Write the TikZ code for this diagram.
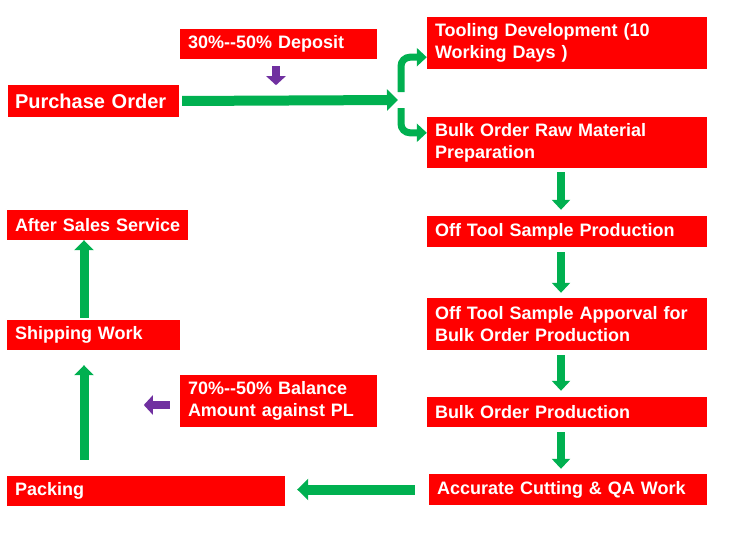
\documentclass[tikz,border=0pt]{standalone}
\usepackage{fontspec}
\setmainfont{Liberation Sans}
\usetikzlibrary{arrows.meta}
\definecolor{boxred}{RGB}{255,0,0}
\definecolor{agreen}{RGB}{0,176,80}
\definecolor{apurple}{RGB}{112,48,160}
\tikzset{
  rbox/.style={fill=boxred, text=white, font=\bfseries\fontsize{18}{22}\selectfont,
    align=left, inner xsep=8pt, inner ysep=0pt, anchor=center},
  garr/.style={draw=agreen, line width=10pt, -{Triangle[length=11pt,width=21pt]}},
  garrs/.style={draw=agreen, line width=8pt, -{Triangle[length=10pt,width=18pt]}},
  parr/.style={draw=apurple, line width=8pt, -{Triangle[length=9pt,width=19pt]}},
}
\begin{document}
\begin{tikzpicture}[x=1pt,y=-1pt]
\useasboundingbox (0,0) rectangle (750,554);
% boxes
\node[rbox, text width=157pt, minimum height=32pt, font=\bfseries\fontsize{20}{24}\selectfont, inner xsep=7pt] (po) at (93.5,101) {Purchase Order};
\node[rbox, text width=181pt, minimum height=30pt] (dep) at (278.5,44) {30\%-{}-50\% Deposit};
\node[rbox, text width=264pt, minimum height=52pt] (tool) at (567,43) {\raisebox{-2pt}{Tooling Development (10}\\\raisebox{-2pt}{Working Days )}};
\node[rbox, text width=264pt, minimum height=51pt] (raw) at (567,142.5) {Bulk Order Raw Material\\Preparation};
\node[rbox, text width=264pt, minimum height=31pt] (ots) at (567,231.5) {Off Tool Sample Production};
\node[rbox, text width=264pt, minimum height=52pt] (appr) at (567,324) {Off Tool Sample Apporval for\\Bulk Order Production};
\node[rbox, text width=264pt, minimum height=30pt] (bop) at (567,412) {Bulk Order Production};
\node[rbox, text width=262pt, minimum height=31pt] (acc) at (568,489.5) {Accurate Cutting \& QA Work};
\node[rbox, text width=262pt, minimum height=30pt] (pack) at (146,491) {Packing};
\node[rbox, text width=181pt, minimum height=52pt] (bal) at (278.5,401) {70\%-{}-50\% Balance\\Amount against PL};
\node[rbox, text width=157pt, minimum height=30pt] (ship) at (93.5,335) {Shipping Work};
\node[rbox, text width=165pt, minimum height=30pt] (after) at (97.5,225) {\makebox[0pt][l]{After Sales Service}};
% main arrow and split
\coordinate (sp) at (398,100);
\draw[garr, shorten <=3pt] (po.east) -- (sp);
\draw[garrs, line width=7pt, rounded corners=9pt] ([xshift=3pt,yshift=8pt]sp) |- ([yshift=12pt]tool.south west);
\draw[garrs, line width=7pt, rounded corners=9pt] ([xshift=3pt,yshift=-8pt]sp) |- ([yshift=-16pt]raw.north west);
% deposit arrow
\draw[parr] ([xshift=-2.5pt,yshift=-7pt]dep.south) -- ([xshift=-2.5pt,yshift=-26pt]dep.south);
% right column
\draw[garrs, shorten <=4pt, shorten >=6pt] ([xshift=-6pt]raw.south) -- ([xshift=-6pt]ots.north);
\draw[garrs, shorten <=5pt, shorten >=5pt] ([xshift=-6pt]ots.south) -- ([xshift=-6pt]appr.north);
\draw[garrs, shorten <=5pt, shorten >=6pt] ([xshift=-6pt]appr.south) -- ([xshift=-6pt]bop.north);
\draw[garrs, shorten <=5pt, shorten >=5pt] ([xshift=-6pt]bop.south) -- ([xshift=-7pt]acc.north);
% bottom
\draw[garr, shorten <=14pt, shorten >=12pt] (acc.west) -- (acc.west -| pack.east);
\draw[parr] ([xshift=-10pt,yshift=-4pt]bal.west) -- ++(-26,0);
% left column
\draw[garr, line width=9pt, -{Triangle[length=10pt,width=19pt]}, shorten <=16pt, shorten >=15pt] ([xshift=-9.5pt]ship.south |- pack.north) -- ([xshift=-9.5pt]ship.south);
\draw[garr, line width=9pt, -{Triangle[length=10pt,width=19pt]}, shorten <=2pt] ([xshift=-9.5pt]ship.north) -- ([xshift=-9.5pt]ship.north |- after.south);
\end{tikzpicture}
\end{document}
